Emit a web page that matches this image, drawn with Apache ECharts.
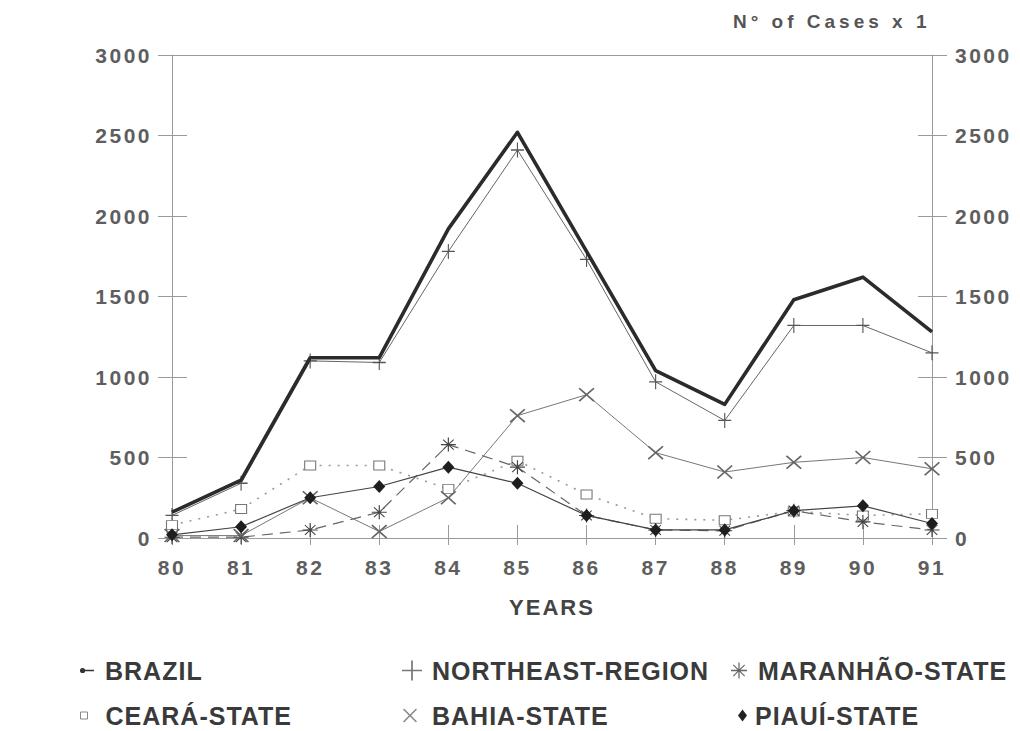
<!DOCTYPE html>
<html>
<head>
<meta charset="utf-8">
<script src="https://cdn.jsdelivr.net/npm/echarts@6/dist/echarts.min.js"></script>
<style>
  html, body { margin: 0; padding: 0; background: #fff; }
  #main { width: 1020px; height: 731px; }
  #main text[style*="25px"] { letter-spacing: 1px; }
  #main text[style*="21px"] { letter-spacing: 2.5px; }
  #main text[style*="22px"] { letter-spacing: 2px; }
  #main text[style*="19px"] { letter-spacing: 4px; }
</style>
</head>
<body>
<div id="main"></div>
<script>
// ---- data ----
var years = ['80', '81', '82', '83', '84', '85', '86', '87', '88', '89', '90', '91'];
var brazil    = [160, 360, 1120, 1120, 1920, 2520, 1780, 1040, 830, 1480, 1620, 1280];
var northeast = [140, 340, 1100, 1090, 1780, 2410, 1730, 970, 730, 1320, 1320, 1150];
var maranhao  = [5, 5, 50, 160, 580, 440, 140, 50, 45, 170, 100, 50];
var ceara     = [80, 180, 450, 450, 305, 480, 270, 120, 110, 165, 140, 150];
var bahia     = [15, 15, 250, 40, 250, 760, 890, 530, 410, 470, 500, 430];
var piaui     = [20, 70, 250, 320, 440, 340, 140, 50, 50, 170, 200, 90];
var yTicks = { min: 0, max: 3000, interval: 500 };
var seriesNames = ['BRAZIL', 'NORTHEAST-REGION', 'MARANHÃO-STATE', 'CEARÁ-STATE', 'BAHIA-STATE', 'PIAUÍ-STATE'];

// ---- marker shapes ----
var PLUS = 'path://M-0.6,-7 L0.6,-7 L0.6,-0.6 L7,-0.6 L7,0.6 L0.6,0.6 L0.6,7 L-0.6,7 L-0.6,0.6 L-7,0.6 L-7,-0.6 L-0.6,-0.6 Z';
var CROSS = 'path://M4.53,-5.37 L5.37,-4.53 L0.85,0 L5.37,4.53 L4.53,5.37 L0,0.85 L-4.53,5.37 L-5.37,4.53 L-0.85,0 L-5.37,-4.53 L-4.53,-5.37 L0,-0.85 Z';
var ASTER = 'path://M-0.55,-7 L0.55,-7 L0.55,-0.55 L7,-0.55 L7,0.55 L0.55,0.55 L0.55,7 L-0.55,7 L-0.55,0.55 L-7,0.55 L-7,-0.55 L-0.55,-0.55 Z ' +
            'M4.6,-5.3 L5.3,-4.6 L0.75,0 L5.3,4.6 L4.6,5.3 L0,0.75 L-4.6,5.3 L-5.3,4.6 L-0.75,0 L-5.3,-4.6 L-4.6,-5.3 L0,-0.75 Z';
var BRAZIL_ICON = 'path://M0,3.3 L14,3.3 L14,4.7 L0,4.7 Z M0,4 A2.6,2.6 0 1 1 5.2,4 A2.6,2.6 0 1 1 0,4 Z';
var SQUARE_ICON = 'path://M0,0 L8,0 L8,8 L0,8 Z';

var axisGray = '#9a9a9a';
var labelFont = { fontFamily: 'Liberation Sans', fontSize: 21, fontWeight: 'bold', color: '#5e5e5e' };
var legendText = { fontFamily: 'Liberation Sans', fontSize: 25, fontWeight: 'bold', color: '#3a3a3a' };

function yAx(pos, inside, len, showLabel, showLine, margin) {
  return {
    type: 'value', position: pos, min: yTicks.min, max: yTicks.max, interval: yTicks.interval,
    axisLine: { show: showLine, onZero: false, lineStyle: { color: axisGray, width: 1 } },
    axisTick: { show: true, inside: inside, length: len, lineStyle: { color: axisGray, width: 1 } },
    axisLabel: Object.assign({ show: showLabel, margin: margin || 8, formatter: function (v) { return String(v); } }, labelFont),
    splitLine: { show: false }
  };
}

function legendItem(name, icon, left, top, w, h, pad, itemStyle) {
  return {
    left: left, top: top, padding: 0, orient: 'horizontal',
    itemWidth: w, itemHeight: h, selectedMode: false,
    data: [{ name: name, icon: icon }],
    itemStyle: itemStyle,
    textStyle: Object.assign({ padding: [0, 0, 0, pad] }, legendText)
  };
}

var chart = echarts.init(document.getElementById('main'), null, { renderer: 'svg' });
chart.setOption({
  animation: false,
  backgroundColor: '#fff',
  grid: { left: 172, right: 88, top: 55, bottom: 193, containLabel: false },
  xAxis: [
    {
      type: 'category', position: 'bottom', data: years, boundaryGap: false,
      axisLine: { show: true, onZero: false, lineStyle: { color: axisGray, width: 1 } },
      axisTick: { show: true, inside: false, length: 7, interval: 0, lineStyle: { color: axisGray, width: 1 } },
      axisLabel: Object.assign({ interval: 0, margin: 19 }, labelFont),
      splitLine: { show: false },
      name: 'YEARS', nameLocation: 'middle', nameGap: 58,
      nameTextStyle: { fontFamily: 'Liberation Sans', fontSize: 22, fontWeight: 'bold', color: '#444' }
    },
    {
      type: 'category', position: 'bottom', data: years, boundaryGap: false,
      axisLine: { show: false, onZero: false },
      axisTick: { show: true, inside: true, length: 13, interval: 0, lineStyle: { color: axisGray, width: 1 } },
      axisLabel: { show: false }, splitLine: { show: false }
    },
    {
      type: 'category', position: 'top', data: years, boundaryGap: false,
      axisLine: { show: true, onZero: false, lineStyle: { color: axisGray, width: 1 } },
      axisTick: { show: false }, axisLabel: { show: false }, splitLine: { show: false }
    }
  ],
  yAxis: [
    yAx('left', false, 14, true, true, 20),
    yAx('left', true, 15, false, false),
    yAx('right', false, 15, true, true, 23),
    yAx('right', true, 14, false, false)
  ],
  graphic: [
    {
      type: 'text', left: 733, top: 12,
      style: { text: 'N° of Cases x 1', fontFamily: 'Liberation Sans', fontSize: 19, fontWeight: 'bold', fill: '#555' }
    }
  ],
  legend: [
    legendItem(seriesNames[0], BRAZIL_ICON, 80, 658, 14, 8, 6, { color: '#333', borderWidth: 0 }),
    legendItem(seriesNames[1], PLUS, 402, 658, 20, 20, 5, { color: '#777', borderWidth: 0 }),
    legendItem(seriesNames[2], ASTER, 731, 658, 16, 16, 6, { color: '#666', borderWidth: 0 }),
    legendItem(seriesNames[3], SQUARE_ICON, 80, 703, 7, 7, 13, { color: '#fff', borderColor: '#888', borderWidth: 1 }),
    legendItem(seriesNames[4], CROSS, 403, 703, 14, 14, 10, { color: '#888', borderWidth: 0 }),
    legendItem(seriesNames[5], 'diamond', 738, 703, 9, 12, 3, { color: '#222', borderWidth: 0 })
  ],
  series: [
    {
      name: seriesNames[1], type: 'line', data: northeast, xAxisIndex: 0, yAxisIndex: 0,
      symbol: PLUS, symbolSize: [13, 15], showSymbol: true,
      lineStyle: { color: '#666', width: 1 },
      itemStyle: { color: '#555', borderWidth: 0 }, z: 3
    },
    {
      name: seriesNames[0], type: 'line', data: brazil, xAxisIndex: 0, yAxisIndex: 0,
      symbol: 'none', showSymbol: false,
      lineStyle: { color: '#2b2b2b', width: 3.6, join: 'round' },
      itemStyle: { color: '#2b2b2b' }, z: 4
    },
    {
      name: seriesNames[3], type: 'line', data: ceara, xAxisIndex: 0, yAxisIndex: 0,
      symbol: 'rect', symbolSize: [11, 9], showSymbol: true,
      lineStyle: { color: '#999', width: 1.6, type: [2, 7] },
      itemStyle: { color: '#fff', borderColor: '#777', borderWidth: 1 }, z: 3
    },
    {
      name: seriesNames[2], type: 'line', data: maranhao, xAxisIndex: 0, yAxisIndex: 0,
      symbol: ASTER, symbolSize: [15, 14], showSymbol: true,
      lineStyle: { color: '#666', width: 1.2, type: [11, 7] },
      itemStyle: { color: '#444', borderWidth: 0 }, z: 3
    },
    {
      name: seriesNames[4], type: 'line', data: bahia, xAxisIndex: 0, yAxisIndex: 0,
      symbol: CROSS, symbolSize: [16, 14], showSymbol: true,
      lineStyle: { color: '#777', width: 1 },
      itemStyle: { color: '#666', borderWidth: 0 }, z: 3
    },
    {
      name: seriesNames[5], type: 'line', data: piaui, xAxisIndex: 0, yAxisIndex: 0,
      symbol: 'diamond', symbolSize: [12, 13], showSymbol: true,
      lineStyle: { color: '#444', width: 1.2 },
      itemStyle: { color: '#1e1e1e', borderWidth: 0 }, z: 3
    }
  ]
});
</script>
</body>
</html>
